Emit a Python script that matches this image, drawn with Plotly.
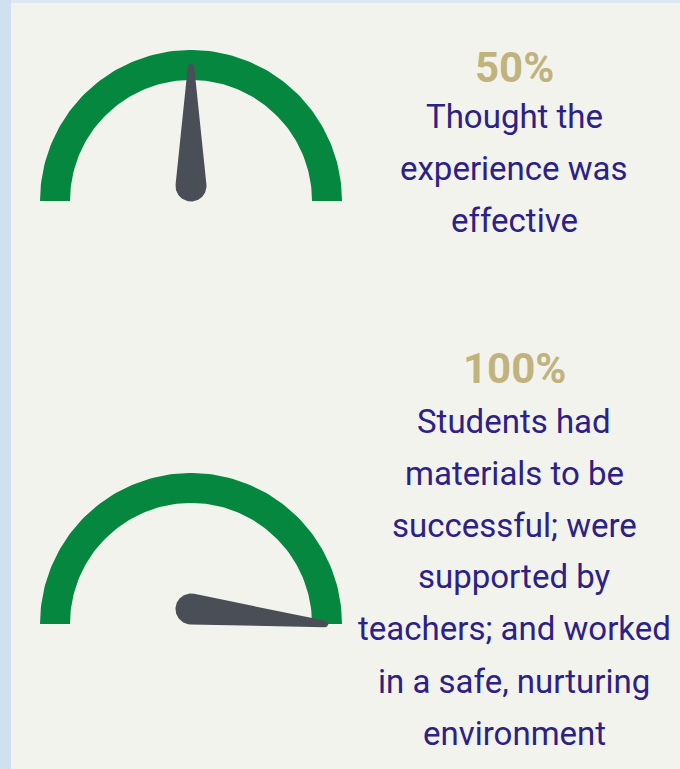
"""Two gauge dials with captions (Plotly)."""
import numpy as np
import plotly.graph_objects as go

# data
values = [50, 100]
labels = ["50%", "100%"]
captions = [
    ["Thought the", "experience was", "effective"],
    ["Students had", "materials to be", "successful; were", "supported by",
     "teachers; and worked", "in a safe, nurturing", "environment"],
]

W, H = 680, 769
BG = "#f3f3ee"
GREEN = "#06873f"
NEEDLE = "#4a4e57"
GOLD = "#c0b37d"
INK = "#2c2186"

# layout of each panel: gauge centre, text baselines
gauge_centers = [(191, 201), (191, 624)]
label_baselines = [82, 383]
caption_baselines = [[128, 180, 232], [433, 485, 537, 588, 640, 693, 745]]
text_x = 514
R_OUT, R_IN = 151, 121
NEEDLE_LEN, PIVOT_R, TIP_R = 134, 15.5, 3.2
BODY_SIZE, PCT_SIZE = 33, 42


def arc_path(cx, cy):
    t = np.linspace(np.pi, 0, 120)
    xs = np.concatenate([cx + R_OUT * np.cos(t), cx + R_IN * np.cos(t[::-1])])
    ys = np.concatenate([cy - R_OUT * np.sin(t), cy - R_IN * np.sin(t[::-1])])
    return xs, ys


def needle_path(cx, cy, value):
    theta = np.radians(180 - 1.8 * value)
    px, py = cx, cy - 15
    tx, ty = cx + NEEDLE_LEN * np.cos(theta), cy - NEEDLE_LEN * np.sin(theta)
    dx, dy = tx - px, ty - py
    d = np.hypot(dx, dy)
    phi = np.arctan2(-dy, dx)  # angle in math orientation
    beta = np.arccos((PIVOT_R - TIP_R) / d)
    tip = np.linspace(phi - beta, phi + beta, 30)
    back = np.linspace(phi + beta, phi + 2 * np.pi - beta, 80)
    xs = np.concatenate([tx + TIP_R * np.cos(tip), px + PIVOT_R * np.cos(back)])
    ys = np.concatenate([ty - TIP_R * np.sin(tip), py - PIVOT_R * np.sin(back)])
    return xs, ys


fig = go.Figure()
for (cx, cy), v in zip(gauge_centers, values):
    ax_, ay_ = arc_path(cx, cy)
    fig.add_trace(go.Scatter(x=ax_, y=ay_, fill="toself", fillcolor=GREEN,
                             mode="lines", line=dict(width=0), hoverinfo="skip"))
    nx, ny = needle_path(cx, cy, v)
    fig.add_trace(go.Scatter(x=nx, y=ny, fill="toself", fillcolor=NEEDLE,
                             mode="lines", line=dict(width=0), hoverinfo="skip"))

annotations = []
for lab, base in zip(labels, label_baselines):
    annotations.append(dict(x=text_x, y=base - 0.345 * PCT_SIZE, text=f"<b>{lab}</b>",
                            showarrow=False, xanchor="center", yanchor="middle",
                            font=dict(family="Roboto", size=PCT_SIZE, color=GOLD)))
for lines, bases in zip(captions, caption_baselines):
    for txt, base in zip(lines, bases):
        annotations.append(dict(x=text_x, y=base - 0.345 * BODY_SIZE, text=txt,
                                showarrow=False, xanchor="center", yanchor="middle",
                                font=dict(family="Roboto", size=BODY_SIZE, color=INK)))

shapes = [
    dict(type="rect", xref="x", yref="y", x0=0, x1=W, y0=0, y1=3,
         fillcolor="#dde8f2", line=dict(width=0), layer="below"),
    dict(type="rect", xref="x", yref="y", x0=0, x1=11, y0=0, y1=H,
         fillcolor="#cfe0ee", line=dict(width=0), layer="below"),
]

fig.update_layout(
    width=W, height=H,
    margin=dict(l=0, r=0, t=0, b=0),
    paper_bgcolor=BG, plot_bgcolor=BG,
    showlegend=False,
    xaxis=dict(range=[0, W], visible=False, fixedrange=True),
    yaxis=dict(range=[H, 0], visible=False, fixedrange=True),
    annotations=annotations,
    shapes=shapes,
)
fig.write_html("out.html", config={"displayModeBar": False},
               post_script="document.body.style.margin='0';")
